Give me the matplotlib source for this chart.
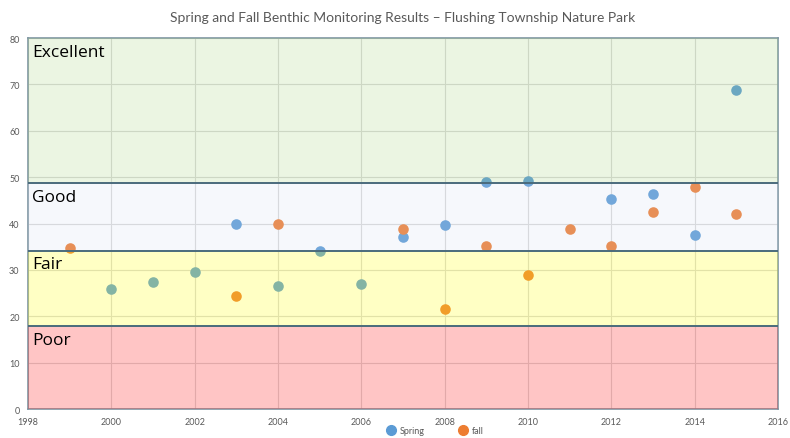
import numpy as np
import matplotlib
matplotlib.use('Agg')
import matplotlib.pyplot as plt
from matplotlib.lines import Line2D

plt.rcParams['font.family'] = ['Lato', 'DejaVu Sans']

spring_years = [2000, 2001, 2002, 2003, 2004, 2005, 2006, 2007, 2008, 2009, 2010, 2012, 2013, 2014, 2015]
spring_scores = [25.9, 27.4, 29.5, 39.9, 26.5, 34.0, 26.9, 37.1, 39.7, 48.9, 49.1, 45.3, 46.3, 37.5, 68.8]

fall_years = [1999, 2003, 2004, 2007, 2008, 2009, 2010, 2011, 2012, 2013, 2014, 2015]
fall_scores = [34.7, 24.4, 39.9, 38.8, 21.6, 35.1, 28.9, 38.8, 35.1, 42.5, 47.8, 42.0]

band_names = ['Poor', 'Fair', 'Good', 'Excellent']
band_edges = [0, 17.9, 34.1, 48.7, 80]
band_colors = ['#ff1a1a', '#ffff14', '#d2dcf0', '#a5d27d']
band_alpha = [0.25, 0.25, 0.2, 0.22]

x_ticks = [1998, 2000, 2002, 2004, 2006, 2008, 2010, 2012, 2014, 2016]
y_ticks = [0, 10, 20, 30, 40, 50, 60, 70, 80]

fig = plt.figure(figsize=(7.9, 4.39), dpi=100)
ax = fig.add_axes([0.0354, 0.066, 0.9496, 0.845])

ax.scatter(spring_years, spring_scores, s=58, color='#5b9bd5', zorder=2, linewidths=0)
ax.scatter(fall_years, fall_scores, s=58, color='#ed7d31', zorder=2, linewidths=0)

for i, name in enumerate(band_names):
    lo, hi = band_edges[i], band_edges[i + 1]
    ax.axhspan(lo, hi, color=band_colors[i], alpha=band_alpha[i], zorder=3, linewidth=0)
    if i > 0:
        ax.axhline(lo, color='#4a6b7c', lw=1.4, zorder=4)
    ax.text(1998.1, hi - 1.2, name, fontsize=12.5, color='black', va='top', ha='left',
            zorder=5, family=['Open Sans', 'DejaVu Sans'])

ax.set_xlim(1998, 2016)
ax.set_ylim(0, 80)
ax.set_xticks(x_ticks)
ax.set_yticks(y_ticks)
ax.grid(True, color='#d9d9d9', lw=0.8, zorder=1)
ax.set_axisbelow(True)
ax.tick_params(length=0, labelsize=6.5, labelcolor='#595959', pad=6)
for s in ax.spines.values():
    s.set_color('#7f96a3')
    s.set_linewidth(1.2)

ax.set_title('Spring and Fall Benthic Monitoring Results \u2013 Flushing Township Nature Park',
             fontsize=10, color='#595959', pad=12)

handles = [Line2D([], [], ls='', marker='o', ms=7, color='#5b9bd5', label='Spring'),
           Line2D([], [], ls='', marker='o', ms=7, color='#ed7d31', label='fall')]
fig.legend(handles=handles, loc='center', bbox_to_anchor=(0.548, 0.016), ncol=2,
           frameon=False, fontsize=6.5, handletextpad=0.0, columnspacing=3.2, labelcolor='#595959',
           borderpad=0, borderaxespad=0)

fig.savefig('out.png', dpi=100)
